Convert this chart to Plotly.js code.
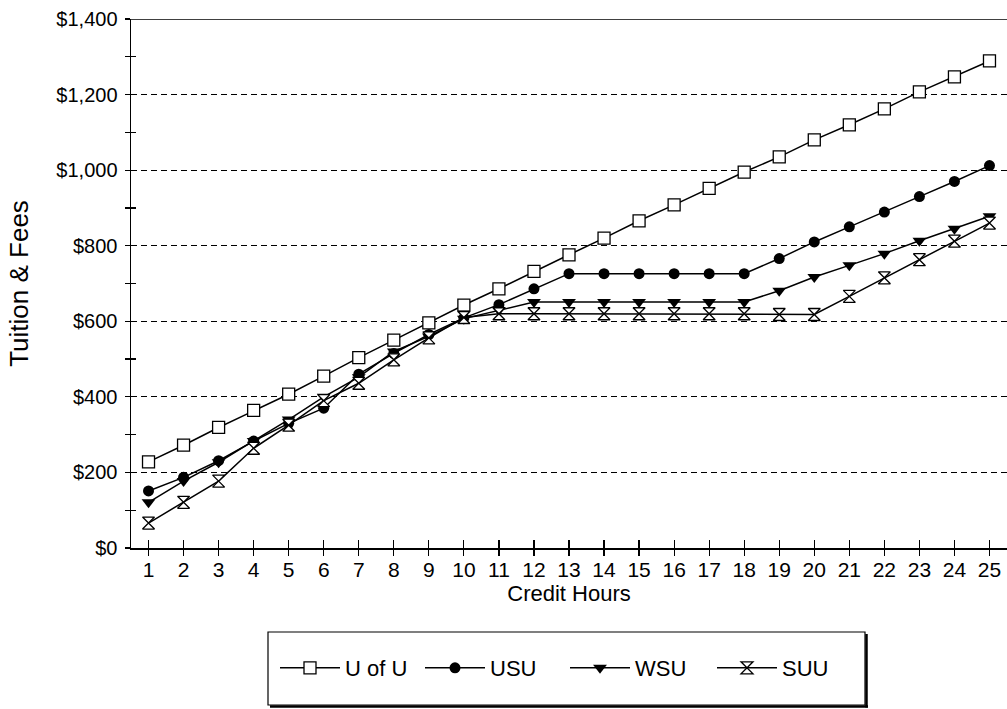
<!DOCTYPE html>
<html>
<head>
<meta charset="utf-8">
<script src="https://cdn.plot.ly/plotly-3.0.1.min.js"></script>
<style>
  html, body { margin: 0; padding: 0; background: #fff; }
  #chart { width: 1007px; height: 709px; }
</style>
</head>
<body>
<div id="chart"></div>
<script>
// ---- data ----
const creditHours = [1,2,3,4,5,6,7,8,9,10,11,12,13,14,15,16,17,18,19,20,21,22,23,24,25];
const xTickLabels = ["1","2","3","4","5","6","7","8","9","10","11","12","13","14","15","16","17","18","19","20","21","22","23","24","25"];
const uOfU = [228,272,319,364,407,455,504,550,596,643,686,732,776,820,866,908,952,995,1035,1080,1120,1162,1207,1247,1289];
const usu  = [151,187,231,283,330,370,460,515,565,609,644,686,726,726,726,726,726,726,766,810,850,889,930,970,1012];
const wsu  = [121,177,227,283,340,400,452,520,560,607,630,651,651,651,651,651,651,651,681,717,748,779,813,845,878];
const suu  = [66,121,177,264,325,390,436,498,556,610,620,620,620,620,620,620,620,620,618,618,666,715,763,812,860];
const yTickVals = [0,200,400,600,800,1000,1200,1400];
const yTickLabels = ["$0","$200","$400","$600","$800","$1,000","$1,200","$1,400"];
const seriesNames = ["U of U","USU","WSU","SUU"];

// ---- layout helpers ----
const W = 1007, H = 709;
const M = {l: 131, r: 0, t: 19, b: 161};
const PW = W - M.l - M.r, PH = H - M.t - M.b;
const px = v => (v - M.l) / PW;
const py = v => (H - M.b - v) / PH;

const FONT = "Liberation Sans, Arial, Helvetica, sans-serif";
const lineStyle = {color: "black", width: 1.5};

const traces = [
  {x: creditHours, y: uOfU, name: seriesNames[0], legend: "legend",
   mode: "lines+markers", line: lineStyle,
   marker: {symbol: "square", size: 12, color: "white", line: {color: "black", width: 1.3}}},
  {x: creditHours, y: usu, name: seriesNames[1], legend: "legend2",
   mode: "lines+markers", line: lineStyle,
   marker: {symbol: "circle", size: 11, color: "black"}},
  {x: creditHours, y: wsu, name: seriesNames[2], legend: "legend3",
   mode: "lines+markers", line: lineStyle,
   marker: {symbol: "triangle-down", size: 12, color: "black"}},
  {x: creditHours, y: suu, name: seriesNames[3], legend: "legend4",
   mode: "lines+markers", line: lineStyle,
   marker: {symbol: "hourglass", size: 12, color: "white", line: {color: "black", width: 1.3}}},
  {x: [null], y: [null], xaxis: "x2", yaxis: "y2", showlegend: false, hoverinfo: "skip", mode: "markers"}
];

const legendBase = (x) => ({
  x: x, y: py(668), xanchor: "left", yanchor: "middle",
  orientation: "h", bgcolor: "rgba(0,0,0,0)", borderwidth: 0,
  itemwidth: 60,
  font: {family: FONT, size: 22, color: "black"}
});

const layout = {
  width: W, height: H,
  margin: M,
  paper_bgcolor: "white", plot_bgcolor: "white",
  font: {family: FONT, color: "black"},
  showlegend: true,
  xaxis: {
    range: [0.5, 25.5], tickmode: "array", tickvals: creditHours, ticktext: xTickLabels,
    ticks: "inside", ticklen: 8, tickwidth: 1.2, tickcolor: "black",
    showline: true, linecolor: "black", linewidth: 1.5,
    showgrid: false, zeroline: false,
    tickfont: {family: FONT, size: 21, color: "black"},
    ticklabelstandoff: 2,
    title: {text: "Credit Hours", font: {family: FONT, size: 22, color: "black"}, standoff: 0}
  },
  xaxis2: {
    overlaying: "x", range: [0.5, 25.5], tickmode: "array", tickvals: creditHours,
    ticks: "outside", ticklen: 7, tickwidth: 1.2, tickcolor: "black",
    showticklabels: false, showline: false, showgrid: false, zeroline: false, anchor: "y2"
  },
  yaxis: {
    range: [0, 1400], tickmode: "array", tickvals: yTickVals, ticktext: yTickLabels,
    ticks: "outside", ticklen: 5, tickwidth: 1.2, tickcolor: "black",
    minor: {tickmode: "linear", tick0: 0, dtick: 100, ticks: "outside", ticklen: 5, tickwidth: 1.2, tickcolor: "black", showgrid: false},
    showline: true, linecolor: "black", linewidth: 1.5,
    showgrid: true, gridcolor: "black", gridwidth: 1.2, griddash: "6px,4px",
    zeroline: false,
    tickfont: {family: FONT, size: 20, color: "black"},
    ticklabelstandoff: 3,
    title: {text: "Tuition &amp; Fees", font: {family: FONT, size: 26, color: "black"}, standoff: 20}
  },
  yaxis2: {
    overlaying: "y", range: [0, 1400], tickmode: "linear", tick0: 0, dtick: 100,
    ticks: "inside", ticklen: 5, tickwidth: 1.2, tickcolor: "black",
    showticklabels: false, showline: false, showgrid: false, zeroline: false, anchor: "x2"
  },
  legend: legendBase(px(275)),
  legend2: legendBase(px(420)),
  legend3: legendBase(px(565)),
  legend4: legendBase(px(712)),
  shapes: [
    {type: "line", xref: "paper", yref: "y", x0: 0, x1: 1, y0: 1400, y1: 1400,
     line: {color: "black", width: 1.5}},
    {type: "rect", xref: "paper", yref: "paper", x0: px(268), x1: px(865), y0: py(632), y1: py(705),
     line: {color: "black", width: 1.2}, fillcolor: "rgba(0,0,0,0)"},
    {type: "line", xref: "paper", yref: "paper", x0: px(866.5), x1: px(866.5), y0: py(634), y1: py(707.5),
     line: {color: "black", width: 2.5}},
    {type: "line", xref: "paper", yref: "paper", x0: px(270), x1: px(868), y0: py(706.5), y1: py(706.5),
     line: {color: "black", width: 2.5}}
  ]
};

Plotly.newPlot("chart", traces, layout, {displayModeBar: false, staticPlot: true});
</script>
</body>
</html>
